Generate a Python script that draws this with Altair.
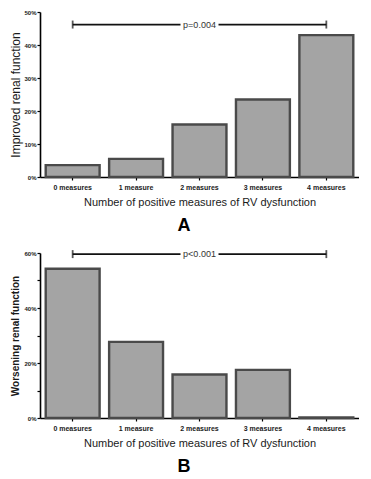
import altair as alt
import pandas as pd

categories = ["0 measures", "1 measure", "2 measures", "3 measures", "4 measures"]
improved = [0.036, 0.055, 0.159, 0.235, 0.430]
worsening = [0.543, 0.277, 0.158, 0.175, 0.002]
p_labels = ["p=0.004", "p<0.001"]
p_levels = [0.462, 0.596]
y_titles = ["Improved renal function", "Worsening renal function"]
panel_letters = ["A", "B"]
x_title = "Number of positive measures of RV dysfunction"
y_max = [0.5, 0.6]
y_ticks_a = [0, 0.1, 0.2, 0.3, 0.4, 0.5]
y_ticks_b = [0, 0.1, 0.2, 0.3, 0.4, 0.5, 0.6]

FONT = "Liberation Sans"
TXT = "#1a1a1a"


def make_panel(values, p_label, p_level, y_title, letter, ymax, ticks, title_bold, title_size,
               title_pad, label_expr):
    xscale = alt.Scale(domain=categories, paddingInner=0.15, paddingOuter=0.09)
    xaxis = alt.Axis(labelAngle=0, labelFont=FONT, labelFontSize=7, labelFontWeight="bold",
                     labelColor=TXT, tickSize=3, tickColor="black", tickWidth=1.2,
                     domainColor="black", domainWidth=1.6, labelPadding=3,
                     titleFont=FONT, titleFontSize=11, titleFontWeight="normal",
                     titleColor=TXT, titlePadding=6)
    yscale = alt.Scale(domain=[0, ymax], nice=False)
    yaxis_kwargs = dict(values=ticks, format=".0%", labelFont=FONT, labelFontSize=6,
                        labelFontWeight="bold", labelColor=TXT, tickSize=3,
                        tickColor="black", tickWidth=1.2, domainColor="black",
                        domainWidth=1.6, labelPadding=1, grid=False,
                        titleFont=FONT, titleFontSize=title_size,
                        titleFontWeight="bold" if title_bold else "normal",
                        titleColor=TXT, titlePadding=title_pad)
    if label_expr:
        yaxis_kwargs["labelExpr"] = label_expr
    yaxis = alt.Axis(**yaxis_kwargs)

    X = alt.X("cat:N", scale=xscale, axis=xaxis, title=x_title, sort=None)
    Y = alt.Y("val:Q", scale=yscale, axis=yaxis, title=y_title)

    bars_df = pd.DataFrame({"cat": categories, "val": values})
    bars = alt.Chart(bars_df).mark_bar(fill="#a4a4a4", stroke="#4a4a4a", strokeWidth=2.4).encode(x=X, y=Y)

    rule_df = pd.DataFrame({"cat": [categories[0]], "cat2": [categories[-1]], "val": [p_level]})
    rule = alt.Chart(rule_df).mark_rule(color="#111111", strokeWidth=1.8).encode(x=X, x2="cat2:N", y=Y)

    caps_df = pd.DataFrame({"cat": [categories[0], categories[-1]], "val": [p_level, p_level]})
    caps = alt.Chart(caps_df).mark_tick(orient="vertical", size=8, thickness=1.8, color="#111111").encode(x=X, y=Y)

    lab_df = pd.DataFrame({"cat": [categories[2]], "val": [p_level], "label": [p_label]})
    box = alt.Chart(lab_df).mark_point(shape="M-1,-0.3L1,-0.3L1,0.3L-1,0.3Z", size=1444,
                                       filled=True, fill="white", opacity=1, strokeWidth=0).encode(x=X, y=Y)
    txt = alt.Chart(lab_df).mark_text(font=FONT, fontSize=9, color="#333333", baseline="middle").encode(
        x=X, y=Y, text="label:N")

    letter_df = pd.DataFrame({"letter": [letter]})
    let = alt.Chart(letter_df).mark_text(font=FONT, fontSize=18, fontWeight="bold", color="black",
                                         baseline="alphabetic", align="center").encode(
        x=alt.value(144), y=alt.value(219), text="letter:N")

    return alt.layer(bars, rule, caps, box, txt, let).properties(width=319, height=165)


panel_a = make_panel(improved, p_labels[0], p_levels[0], y_titles[0], panel_letters[0], y_max[0],
                     y_ticks_a, False, 12, 1, None)
panel_b = make_panel(worsening, p_labels[1], p_levels[1], y_titles[1], panel_letters[1], y_max[1],
                     y_ticks_b, True, 10, 3, "round(datum.value*100) % 20 == 0 ? datum.label : ''")

chart = alt.vconcat(panel_a, panel_b, spacing=76, bounds="flush").properties(
    padding={"left": 1, "top": 1, "right": 0, "bottom": 0},
    background="white",
).configure_view(stroke=None)

chart.save("out.html", embed_options={"renderer": "svg", "actions": False})
